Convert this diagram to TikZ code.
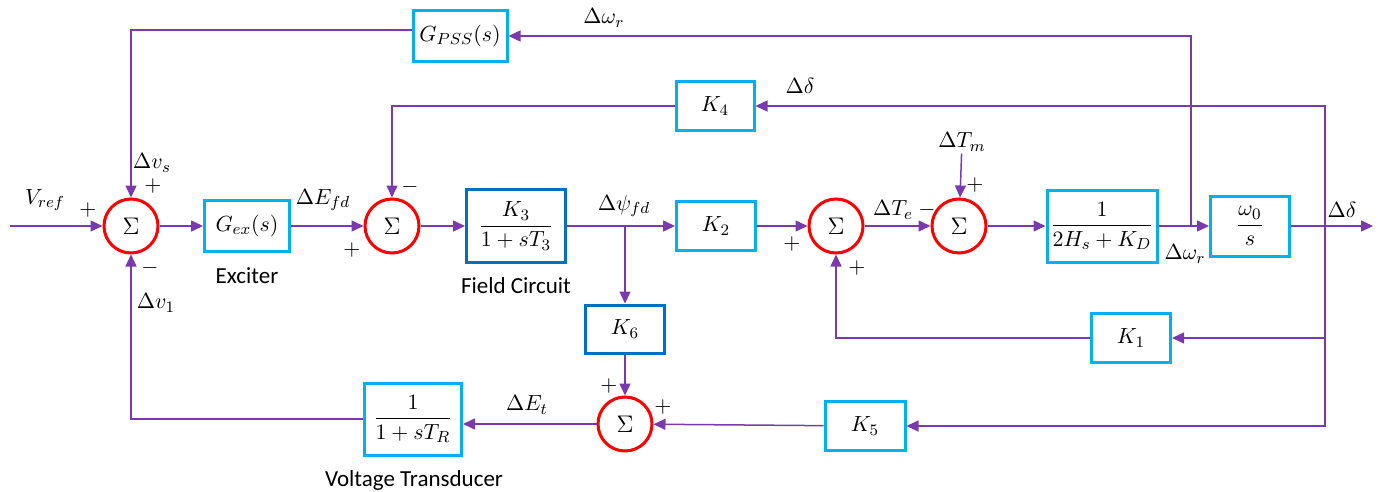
\documentclass[tikz,border=0pt]{standalone}
\usepackage{amsmath,amssymb}
\usepackage{fontspec}
\usepackage{tikz}
\usetikzlibrary{arrows.meta,positioning,calc}
\newfontfamily\lblfont{Carlito}
\definecolor{sigline}{RGB}{122,58,172}
\definecolor{boxlight}{RGB}{0,176,240}
\definecolor{boxdark}{RGB}{0,112,192}
\definecolor{sumred}{RGB}{255,0,0}

\begin{document}
\begin{tikzpicture}[
  x=0.5pt, y=-0.5pt,
  blk/.style={draw=boxlight, line width=1.5pt, minimum width=39.5pt,
    minimum height=24.5pt, inner sep=1pt, font=\fontsize{11}{13}\selectfont},
  blkdark/.style={blk, draw=boxdark},
  sumnode/.style={circle, draw=sumred, line width=1.5pt, minimum size=27pt,
    inner sep=0pt, font=\fontsize{12}{14}\selectfont},
  lbl/.style={font=\fontsize{11}{13}\selectfont, inner sep=1pt},
  txt/.style={font=\lblfont\fontsize{11.5}{13}\selectfont, inner sep=1pt},
  sig/.style={draw=sigline, line width=0.75pt},
  >={Triangle[length=6pt,width=5.5pt]}
]
\useasboundingbox (0,0) rectangle (1391,492);

\node[sumnode] (sum1) at (131,226) {$\Sigma$};
\node[blk, minimum width=42.5pt, minimum height=25.5pt] (gex) at (247,226) {$G_{ex}(s)$};
\node[sumnode] (sum2) at (392,226) {$\Sigma$};
\node[blkdark, minimum width=49.5pt, minimum height=36.5pt] (field) at (516,226) {$\dfrac{K_3}{1+sT_3}$};
\node[blk] (kb2) at (716,226) {$K_2$};
\node[sumnode] (sum3) at (836,226) {$\Sigma$};
\node[sumnode] (sum4) at (959,226) {$\Sigma$};
\node[blk, minimum width=55pt, minimum height=36pt] (inertia) at (1102,226) {$\dfrac{1}{2H_s+K_D}$};
\node[blk, minimum height=30pt] (integ) at (1250,226) {$\dfrac{\omega_0}{s}$};
\node[blk, minimum width=47pt, minimum height=25.5pt] (gpss) at (460,36) {$G_{PSS}(s)$};
\node[blk, minimum width=39pt] (kb4) at (715,106) {$K_4$};
\node[blkdark, minimum height=24pt] (kb6) at (625,329) {$K_6$};
\node[sumnode] (sum5) at (625,424) {$\Sigma$};
\node[blk, minimum width=48.5pt, minimum height=36pt] (trans) at (413,419) {$\dfrac{1}{1+sT_R}$};
\node[blk, minimum width=40pt] (kb5) at (865,426) {$K_5$};
\node[blk] (kb1) at (1131,338) {$K_1$};

\coordinate (vin) at (10,226);
\coordinate (vout) at (1373,226);
\coordinate (dbr) at (1325,226);
\coordinate (wbr) at (1191,226);
\coordinate (fbr) at (625,226);
\node[lbl] (dtm) at (962,142) {$\Delta T_m$};

\node[lbl] at (45,200) {$V_{ref}$};
\node[lbl] at (88,210) {$+$};
\node[lbl] at (153,186) {$+$};
\node[lbl] at (150,268) {$-$};
\node[lbl] at (152,163) {$\Delta v_s$};
\node[lbl] at (156,303) {$\Delta v_1$};
\node[lbl] at (323,200) {$\Delta E_{fd}$};
\node[txt] at (247,276) {Exciter};
\node[lbl] at (410,187) {$-$};
\node[lbl] at (352,250) {$+$};
\node[txt] at (516,286) {Field Circuit};
\node[lbl] at (624,206) {$\Delta\psi_{fd}$};
\node[lbl] at (792,244) {$+$};
\node[lbl] at (857,268) {$+$};
\node[lbl] at (893,210) {$\Delta T_e$};
\node[lbl] at (927,210) {$-$};
\node[lbl] at (975,185) {$+$};
\node[lbl] at (1185,254) {$\Delta\omega_r$};
\node[lbl] at (604,18) {$\Delta\omega_r$};
\node[lbl] at (1342,210) {$\Delta\delta$};
\node[lbl] at (800,86) {$\Delta\delta$};
\node[lbl] at (609,386) {$+$};
\node[lbl] at (663,407) {$+$};
\node[lbl] at (527,405) {$\Delta E_t$};
\node[txt] at (414,480) {Voltage Transducer};

\draw[sig,->] (vin) -- (sum1);
\draw[sig,->] (sum1) -- (gex);
\draw[sig,->] (gex) -- (sum2);
\draw[sig,->] (sum2) -- (field);
\draw[sig,->] (field) -- (kb2);
\draw[sig,->] (kb2) -- (sum3);
\draw[sig,->] (sum3) -- (sum4);
\draw[sig,->] (dtm) -- (sum4);
\draw[sig,->] (sum4) -- (inertia);
\draw[sig,->] (inertia) -- (integ);
\draw[sig,->] (integ) -- (vout);
\draw[sig,->] (wbr) |- (gpss.east);
\draw[sig,->] ([yshift=3pt]gpss.west) -| (sum1.north);
\draw[sig,->] (dbr) |- (kb4.east);
\draw[sig,->] (kb4.west) -| (sum2.north);
\draw[sig,->] (dbr) |- (kb1.east);
\draw[sig,->] (kb1.west) -| (sum3.south);
\draw[sig,->] (dbr) |- (kb5.east);
\draw[sig,->] (kb5) -- (sum5);
\draw[sig,->] (fbr) -- (kb6);
\draw[sig,->] (kb6) -- (sum5);
\draw[sig,->] (sum5.west) -- (sum5.west -| trans.east);
\draw[sig,->] (trans.west) -| (sum1.south);
\end{tikzpicture}
\end{document}
